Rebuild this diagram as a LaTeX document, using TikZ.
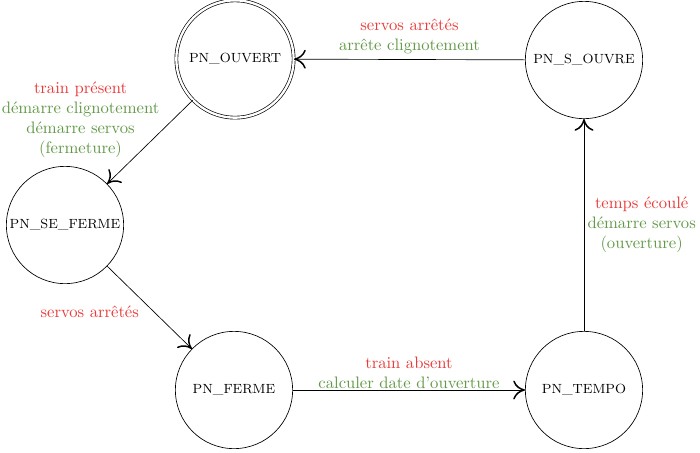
\documentclass[tikz,border=0pt]{standalone}
\usepackage{xcolor}
\usepackage{tikz}
\usetikzlibrary{positioning,arrows.meta}
\definecolor{evtred}{RGB}{232,58,58}
\definecolor{actgreen}{RGB}{98,152,72}
\newcommand{\evt}[1]{\textcolor{evtred}{#1}}
\newcommand{\act}[1]{\textcolor{actgreen}{#1}}

\begin{document}
\begin{tikzpicture}[x=0.02115cm, y=-0.02115cm,
                    every node/.style={font=\normalsize},
                    state/.style={draw,circle,minimum size=2.48cm,inner sep=0pt,font=\footnotesize},
                    initstate/.style={state,double,double distance=1.4pt},
                    trans/.style={draw,-{To[length=2.5mm,width=4mm,line width=0.9pt]}},
                    lbl/.style={align=center}]
\useasboundingbox (0,0) rectangle (700,452);
\node[initstate] (ouvert)  at (235,59)  {PN\_OUVERT};
\node[state]     (souvre)  at (584,60)  {PN\_S\_OUVRE};
\node[state]     (seferme) at (65,225)  {PN\_SE\_FERME};
\node[state]     (ferme)   at (234,390) {PN\_FERME};
\node[state]     (tempo)   at (584,390) {PN\_TEMPO};
\draw[trans] (ouvert) -- node[lbl,anchor=south east,xshift=3.2mm,yshift=-4.6mm]
  {\evt{train présent}\\ \act{démarre clignotement}\\ \act{démarre servos}\\ \act{(fermeture)}} (seferme);
\draw[trans] (seferme) -- node[lbl,left=1mm,yshift=-1mm] {\evt{servos arrêtés}} (ferme);
\draw[trans] (ferme) -- node[lbl,above=-1mm] {\evt{train absent}\\ \act{calculer date d'ouverture}} (tempo);
\draw[trans] (tempo) -- node[lbl,right=-0.5mm] {\evt{temps écoulé}\\ \act{démarre servos}\\ \act{(ouverture)}} (souvre);
\draw[trans] (souvre) -- node[lbl,above] {\evt{servos arrêtés}\\ \act{arrête clignotement}} (ouvert);
\end{tikzpicture}
\end{document}
